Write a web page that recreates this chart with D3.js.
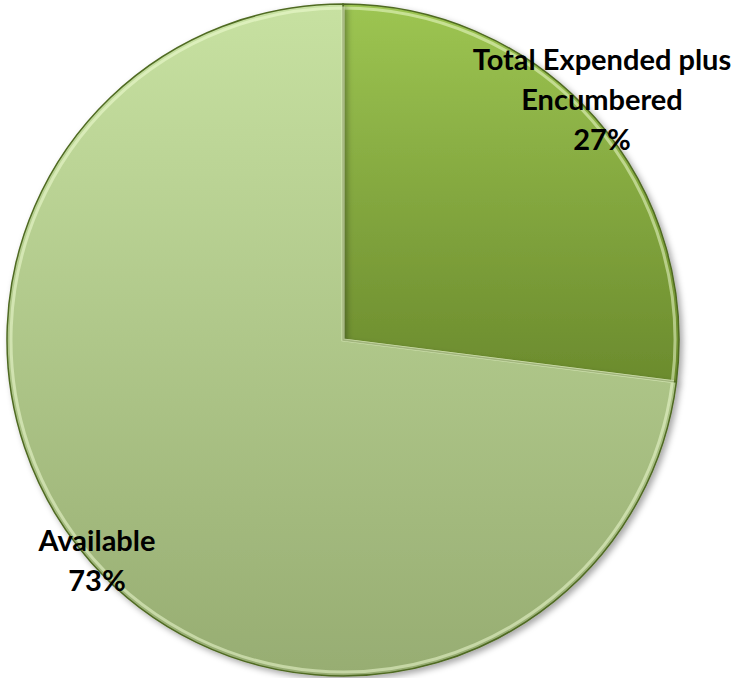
<!DOCTYPE html>
<html>
<head>
<meta charset="utf-8">
<script src="https://cdn.jsdelivr.net/npm/d3@7"></script>
<style>
  body { margin: 0; background: #fff; }
  svg { display: block; }
</style>
</head>
<body>
<script>
var w = 734,
    h = 678,
    cx = 343,
    cy = 340,
    r = 336;

var categories = ["Total Expended plus Encumbered", "Available"];
var values = [27, 73];
var labelLines = [["Total Expended plus", "Encumbered", "27%"], ["Available", "73%"]];

var data = categories.map(function(c, i) { return { name: c, value: values[i] }; });

var svg = d3.select("body")
            .append("svg")
            .attr("width", w)
            .attr("height", h);

var defs = svg.append("defs");

// top-to-bottom shading for each slice (over each slice's own box)
var grads = [
  { id: "g0", top: "#9dc552", bottom: "#6b8b2d" },
  { id: "g1", top: "#c7e1a1", bottom: "#97ad72" }
];
grads.forEach(function(g) {
  var lg = defs.append("linearGradient")
      .attr("id", g.id)
      .attr("x1", 0).attr("y1", 0)
      .attr("x2", 0).attr("y2", 1);
  lg.append("stop").attr("offset", "0%").attr("stop-color", g.top);
  lg.append("stop").attr("offset", "100%").attr("stop-color", g.bottom);
});

var shadow = defs.append("filter").attr("id", "shadow")
    .attr("x", "-10%").attr("y", "-10%").attr("width", "120%").attr("height", "120%");
shadow.append("feDropShadow")
    .attr("dx", 3).attr("dy", 3).attr("stdDeviation", 3)
    .attr("flood-color", "#000").attr("flood-opacity", 0.35);

var pie = d3.pie().sort(null).value(function(d) { return d.value; });
var arc = d3.arc().innerRadius(0).outerRadius(r);
var arcInner = d3.arc().innerRadius(0).outerRadius(r - 4);

var g = svg.append("g").attr("transform", "translate(" + cx + "," + cy + ")");

var slices = g.selectAll("g.slice")
    .data(pie(data))
    .enter()
    .append("g")
    .attr("class", "slice");

slices.append("path")
    .attr("d", arc)
    .attr("fill", function(d, i) { return "url(#g" + i + ")"; })
    .attr("stroke", "#4f6a22")
    .attr("stroke-width", 1.5)
    .attr("filter", "url(#shadow)");

// bevel highlight
slices.append("path")
    .attr("d", arcInner)
    .attr("fill", "none")
    .attr("stroke", "#f4ffd8")
    .attr("stroke-opacity", 0.5)
    .attr("stroke-width", 3);

// labels
var labelPos = [[602, 60], [97, 541]];
var lineH = 40;

svg.selectAll("text.label")
    .data(data)
    .enter()
    .append("text")
    .attr("class", "label")
    .attr("text-anchor", "middle")
    .attr("font-family", "Lato, 'Open Sans', sans-serif")
    .attr("font-weight", "bold")
    .attr("font-size", "29px")
    .attr("fill", "#000")
    .each(function(d, i) {
      var t = d3.select(this);
      labelLines[i].forEach(function(line, j) {
        t.append("tspan")
          .attr("x", labelPos[i][0])
          .attr("y", labelPos[i][1] + j * lineH)
          .attr("dy", "0.35em")
          .text(line);
      });
    });
</script>
</body>
</html>
